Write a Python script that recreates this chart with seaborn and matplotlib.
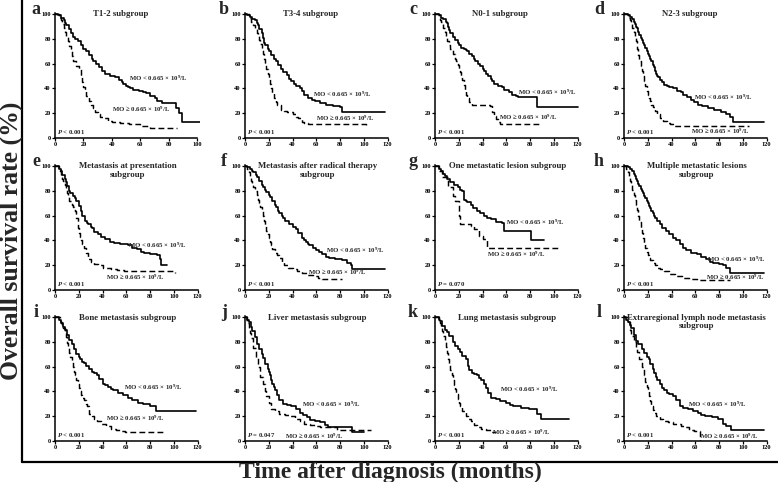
import matplotlib
matplotlib.use("Agg")
import matplotlib.pyplot as plt
from matplotlib.lines import Line2D
import seaborn as sns
import pandas as pd

# ---------------- data ----------------
a_lo_t = [0, 2, 4, 6, 7, 8, 10, 11, 13, 14, 16, 18, 20, 22, 24, 26, 27, 29, 31, 33, 35, 39, 42, 45, 47, 48, 50, 51, 53, 55, 59, 62, 64, 67, 70, 72, 75, 85, 87, 89, 102]
a_lo_s = [100, 99, 97, 95, 93, 91, 88, 85, 82, 80, 78, 75, 72, 70, 67, 64, 62, 60, 57, 54, 52, 50, 49, 47, 45, 44, 42, 41, 40, 39, 38, 37, 36, 34, 32, 30, 28, 24, 20, 13, 13]
a_hi_t = [0, 3, 4, 5, 6, 7, 8, 9, 10, 11, 12, 13, 15, 17, 18, 19, 20, 21, 22, 24, 25, 27, 28, 30, 32, 34, 37, 40, 46, 52, 60, 67, 86]
a_hi_s = [100, 97, 95, 92, 89, 86, 82, 78, 74, 70, 66, 62, 58, 56, 50, 45, 41, 38, 34, 30, 27, 24, 21, 19, 17, 16, 14, 13, 12, 11, 10, 8, 8]

b_lo_t = [0, 2, 4, 6, 8, 10, 11, 12, 14, 15, 16, 17, 19, 20, 22, 24, 26, 28, 30, 32, 35, 37, 39, 41, 43, 46, 48, 50, 53, 56, 59, 63, 68, 74, 80, 82, 118]
b_lo_s = [100, 99, 98, 96, 95, 93, 91, 88, 85, 81, 77, 75, 72, 70, 67, 64, 62, 59, 56, 53, 51, 48, 46, 44, 42, 40, 38, 35, 32, 31, 30, 28, 27, 26, 25, 21, 21]
b_hi_t = [0, 3, 5, 7, 8, 10, 11, 12, 13, 14, 15, 16, 17, 18, 19, 20, 21, 22, 23, 24, 26, 27, 30, 33, 35, 40, 43, 45, 48, 50, 53, 102]
b_hi_s = [100, 97, 94, 91, 89, 85, 83, 79, 76, 72, 68, 64, 60, 56, 52, 48, 44, 40, 36, 32, 29, 27, 23, 22, 21, 19, 17, 16, 13, 12, 11, 10]

c_lo_t = [0, 3, 5, 7, 9, 10, 11, 12, 13, 15, 17, 19, 20, 22, 24, 26, 27, 29, 31, 33, 34, 36, 38, 40, 41, 43, 45, 47, 48, 50, 53, 56, 58, 62, 65, 68, 70, 86, 120]
c_lo_s = [100, 99, 97, 96, 94, 93, 90, 87, 85, 82, 79, 77, 75, 73, 72, 71, 70, 68, 66, 64, 62, 60, 58, 56, 54, 52, 50, 48, 46, 44, 42, 41, 39, 37, 35, 34, 33, 25, 25]
c_hi_t = [0, 3, 4, 5, 6, 7, 8, 9, 10, 12, 13, 15, 17, 18, 19, 20, 21, 22, 23, 24, 25, 26, 27, 29, 31, 46, 48, 50, 51, 53, 55, 89]
c_hi_s = [100, 97, 95, 94, 92, 89, 86, 82, 78, 75, 72, 68, 64, 62, 59, 56, 53, 50, 47, 43, 39, 35, 32, 29, 27, 26, 21, 18, 15, 13, 11, 11]

d_lo_t = [0, 3, 5, 7, 8, 9, 10, 11, 12, 13, 14, 15, 16, 17, 18, 19, 20, 21, 22, 23, 24, 25, 26, 27, 28, 29, 30, 32, 34, 36, 38, 41, 45, 48, 50, 53, 56, 59, 62, 66, 71, 76, 82, 86, 89, 92, 118]
d_lo_s = [100, 99, 98, 96, 94, 92, 90, 89, 86, 83, 81, 79, 77, 75, 73, 70, 68, 66, 64, 62, 59, 57, 54, 52, 50, 49, 47, 45, 43, 42, 41, 40, 38, 37, 35, 33, 31, 29, 27, 26, 24, 23, 21, 19, 17, 13, 13]
d_hi_t = [0, 3, 4, 5, 6, 7, 8, 9, 10, 11, 12, 13, 14, 15, 16, 17, 18, 19, 20, 21, 22, 23, 24, 26, 28, 30, 33, 36, 39, 42, 105]
d_hi_s = [100, 98, 97, 95, 92, 89, 86, 82, 78, 72, 67, 62, 58, 54, 50, 46, 42, 38, 35, 32, 30, 27, 25, 22, 19, 16, 14, 12, 11, 10, 10]

e_lo_t = [0, 3, 5, 6, 8, 9, 10, 12, 13, 15, 17, 18, 20, 22, 23, 25, 27, 28, 30, 31, 33, 36, 39, 42, 46, 50, 55, 61, 65, 69, 72, 75, 80, 86, 88, 89, 94]
e_lo_s = [100, 98, 96, 93, 90, 87, 84, 80, 78, 76, 74, 72, 68, 64, 60, 56, 54, 53, 51, 50, 47, 45, 43, 41, 39, 38, 37, 36, 34, 33, 31, 30, 29, 28, 25, 20, 20]
e_hi_t = [0, 3, 4, 5, 6, 7, 8, 9, 10, 11, 12, 14, 15, 16, 17, 18, 19, 20, 21, 22, 23, 24, 26, 28, 30, 33, 36, 40, 47, 52, 58, 101]
e_hi_s = [100, 98, 96, 93, 90, 88, 85, 82, 78, 75, 72, 69, 67, 65, 64, 58, 50, 46, 43, 40, 37, 34, 30, 25, 23, 21, 20, 18, 17, 16, 15, 14]

f_lo_t = [0, 2, 4, 6, 7, 9, 10, 12, 14, 15, 17, 18, 20, 21, 23, 25, 26, 28, 29, 31, 32, 34, 37, 40, 43, 45, 48, 50, 51, 53, 54, 57, 60, 62, 65, 68, 71, 76, 82, 86, 89, 90, 118]
f_lo_s = [100, 99, 98, 96, 95, 93, 91, 88, 85, 83, 81, 79, 77, 75, 72, 69, 67, 64, 62, 60, 58, 56, 53, 51, 49, 46, 42, 40, 39, 37, 36, 34, 32, 31, 29, 27, 26, 25, 24, 22, 20, 17, 17]
f_hi_t = [0, 2, 3, 4, 5, 6, 7, 8, 9, 10, 11, 12, 13, 14, 15, 16, 17, 18, 19, 20, 21, 22, 23, 25, 27, 29, 31, 33, 36, 40, 44, 48, 52, 57, 61, 65, 82]
f_hi_s = [100, 98, 95, 92, 88, 85, 83, 82, 80, 77, 73, 70, 67, 64, 60, 56, 52, 48, 45, 42, 39, 36, 33, 30, 28, 26, 23, 20, 18, 17, 15, 14, 12, 11, 10, 9, 9]

g_lo_t = [0, 3, 5, 7, 8, 10, 13, 16, 19, 21, 23, 24, 26, 27, 30, 32, 35, 38, 41, 44, 47, 51, 56, 58, 81, 92]
g_lo_s = [100, 98, 96, 94, 92, 90, 87, 85, 83, 81, 80, 73, 72, 71, 69, 66, 64, 62, 60, 58, 57, 55, 54, 48, 40, 40]
g_hi_t = [0, 3, 6, 11, 15, 17, 20, 21, 30, 33, 37, 40, 44, 104]
g_hi_s = [100, 96, 91, 83, 76, 72, 60, 53, 52, 49, 44, 41, 34, 33]

h_lo_t = [0, 3, 5, 7, 8, 9, 10, 11, 12, 13, 14, 15, 16, 17, 18, 19, 20, 21, 22, 23, 24, 25, 26, 28, 30, 32, 35, 38, 41, 44, 47, 50, 52, 56, 61, 65, 69, 72, 75, 80, 83, 86, 89, 118]
h_lo_s = [100, 99, 98, 96, 94, 92, 90, 88, 86, 84, 82, 80, 78, 76, 74, 72, 70, 68, 66, 64, 62, 60, 58, 56, 53, 50, 48, 45, 42, 40, 37, 34, 32, 30, 29, 27, 25, 23, 22, 21, 20, 18, 14, 14]
h_hi_t = [0, 2, 3, 4, 5, 6, 7, 8, 9, 10, 11, 12, 13, 14, 15, 16, 17, 18, 19, 20, 21, 22, 24, 26, 28, 30, 34, 38, 43, 49, 55, 61, 89]
h_hi_s = [100, 98, 95, 92, 88, 85, 81, 77, 73, 69, 65, 60, 55, 50, 46, 42, 38, 34, 31, 28, 26, 24, 22, 20, 18, 17, 15, 13, 11, 10, 9, 8, 8]

i_lo_t = [0, 3, 5, 7, 8, 10, 12, 14, 16, 18, 20, 21, 23, 24, 26, 29, 31, 33, 35, 37, 40, 42, 45, 47, 49, 53, 57, 61, 65, 70, 74, 80, 85, 119]
i_lo_s = [100, 98, 95, 92, 90, 86, 82, 78, 74, 70, 68, 66, 64, 63, 61, 58, 56, 55, 53, 50, 46, 45, 44, 42, 41, 39, 37, 35, 33, 31, 30, 28, 24, 24]
i_hi_t = [0, 4, 5, 6, 7, 8, 9, 10, 11, 12, 13, 14, 15, 16, 17, 18, 19, 20, 21, 22, 23, 24, 26, 27, 29, 31, 33, 35, 39, 43, 47, 51, 55, 59, 91]
i_hi_s = [100, 97, 95, 93, 91, 88, 84, 79, 75, 71, 68, 64, 60, 56, 53, 49, 46, 43, 40, 37, 35, 33, 30, 28, 22, 20, 18, 16, 14, 12, 10, 9, 8, 7, 7]

j_lo_t = [0, 2, 3, 5, 6, 8, 10, 12, 14, 15, 17, 19, 20, 21, 22, 23, 24, 25, 27, 29, 32, 35, 39, 43, 46, 49, 52, 55, 59, 63, 67, 70, 90, 100]
j_lo_s = [100, 98, 96, 92, 89, 84, 78, 74, 70, 67, 62, 58, 56, 53, 49, 46, 44, 41, 37, 33, 30, 29, 28, 26, 23, 21, 19, 17, 16, 15, 13, 11, 7, 7]
j_hi_t = [0, 2, 3, 4, 5, 7, 9, 11, 13, 15, 17, 18, 20, 22, 25, 29, 34, 38, 42, 46, 50, 55, 59, 63, 77, 106]
j_hi_s = [100, 95, 91, 87, 83, 75, 67, 60, 52, 46, 40, 36, 31, 26, 24, 22, 21, 20, 18, 16, 14, 13, 12, 11, 9, 9]

k_lo_t = [0, 3, 4, 6, 8, 10, 12, 15, 17, 19, 21, 23, 26, 28, 29, 31, 33, 35, 37, 39, 41, 43, 45, 47, 51, 55, 60, 63, 66, 72, 79, 86, 89, 113]
k_lo_s = [100, 98, 97, 93, 90, 88, 85, 80, 77, 74, 72, 69, 66, 61, 57, 55, 54, 53, 51, 49, 46, 43, 39, 35, 34, 32, 31, 29, 28, 27, 26, 22, 18, 18]
k_hi_t = [0, 3, 4, 5, 6, 7, 8, 9, 10, 11, 12, 13, 14, 15, 16, 17, 18, 19, 20, 21, 23, 26, 28, 30, 33, 35, 39, 43, 47, 51]
k_hi_s = [100, 97, 95, 92, 89, 85, 80, 76, 71, 66, 62, 57, 53, 49, 45, 42, 38, 34, 31, 28, 24, 20, 18, 16, 13, 11, 10, 9, 7, 7]

l_lo_t = [0, 2, 3, 5, 6, 8, 10, 12, 15, 17, 19, 21, 22, 24, 25, 27, 28, 30, 32, 34, 36, 38, 41, 44, 47, 50, 54, 58, 62, 65, 68, 74, 79, 83, 86, 90, 118]
l_lo_s = [100, 98, 96, 94, 91, 86, 81, 78, 74, 71, 68, 66, 62, 58, 55, 52, 49, 46, 43, 41, 39, 38, 36, 33, 28, 27, 26, 24, 23, 21, 20, 19, 18, 14, 12, 9, 9]
l_hi_t = [0, 3, 5, 6, 8, 10, 11, 13, 15, 17, 18, 19, 20, 21, 22, 23, 24, 25, 27, 30, 33, 37, 41, 45, 48, 51, 55, 59, 64]
l_hi_s = [100, 96, 90, 85, 80, 75, 72, 66, 60, 53, 48, 44, 40, 36, 32, 28, 25, 23, 20, 18, 16, 15, 14, 14, 12, 11, 9, 8, 0]

letters = list("abcdefghijkl")
titles = ["T1-2 subgroup", "T3-4 subgroup", "N0-1 subgroup", "N2-3 subgroup",
          "Metastasis at presentation\nsubgroup",
          "Metastasis after radical therapy\nsubgroup",
          "One metastatic lesion subgroup",
          "Multiple metastatic lesions\nsubgroup",
          "Bone metastasis subgroup", "Liver metastasis subgroup",
          "Lung metastasis subgroup",
          "Extraregional lymph node metastasis\nsubgroup"]
p_values = ["< 0.001", "< 0.001", "< 0.001", "< 0.001", "< 0.001", "< 0.001",
            "= 0.070", "< 0.001", "< 0.001", "= 0.047", "< 0.001", "< 0.001"]
x_max_tick = [100, 120, 120, 120, 120, 120, 120, 120, 120, 120, 120, 120]
y_ticks = [0, 20, 40, 60, 80, 100]
label_lo = "MO < 0.665 × 10$^{9}$/L"
label_hi = "MO ≥ 0.665 × 10$^{9}$/L"

curves_lo = [(a_lo_t, a_lo_s), (b_lo_t, b_lo_s), (c_lo_t, c_lo_s), (d_lo_t, d_lo_s),
             (e_lo_t, e_lo_s), (f_lo_t, f_lo_s), (g_lo_t, g_lo_s), (h_lo_t, h_lo_s),
             (i_lo_t, i_lo_s), (j_lo_t, j_lo_s), (k_lo_t, k_lo_s), (l_lo_t, l_lo_s)]
curves_hi = [(a_hi_t, a_hi_s), (b_hi_t, b_hi_s), (c_hi_t, c_hi_s), (d_hi_t, d_hi_s),
             (e_hi_t, e_hi_s), (f_hi_t, f_hi_s), (g_hi_t, g_hi_s), (h_hi_t, h_hi_s),
             (i_hi_t, i_hi_s), (j_hi_t, j_hi_s), (k_hi_t, k_hi_s), (l_hi_t, l_hi_s)]

# ---------------- layout ----------------
lo_text_pos = [(52, 48), (57, 35), (70, 37), (59, 33), (61, 36), (68, 32),
               (60, 55), (70, 25), (58, 43), (48, 30), (55, 42), (54, 30)]
hi_text_pos = [(40, 23), (60, 16), (54, 17), (56, 5), (43, 10), (53, 14),
               (44, 29), (69, 10), (43, 18), (34, 4), (48, 7), (64, 4)]

sns.set_theme(style="ticks")
plt.rcParams["font.family"] = ["Liberation Serif", "DejaVu Serif"]
plt.rcParams["font.weight"] = "bold"
plt.rcParams["mathtext.fontset"] = "custom"
plt.rcParams["mathtext.rm"] = "Liberation Serif:bold"
plt.rcParams["mathtext.it"] = "Liberation Serif:italic:bold"
plt.rcParams["mathtext.bf"] = "Liberation Serif:bold"

W, H = 778, 482
fig = plt.figure(figsize=(W / 100, H / 100), dpi=100)
fig.patch.set_facecolor("white")

col_left = [55, 245, 435, 624]
row_top = [13, 165, 316]
ax_w, ax_h = 145, 125
letter_dx = [19, 21, 22, 25]

for idx in range(12):
    r, c = divmod(idx, 4)
    left = col_left[c] / W
    bottom = 1 - (row_top[r] + ax_h) / H
    ax = fig.add_axes([left, bottom, ax_w / W, ax_h / H])
    xmax = x_max_tick[idx]

    t, s = curves_lo[idx]
    df_lo = pd.DataFrame({"time": t, "surv": s})
    sns.lineplot(data=df_lo, x="time", y="surv", ax=ax, estimator=None, sort=False,
                 drawstyle="steps-post", color="black", linewidth=1.2)
    t, s = curves_hi[idx]
    df_hi = pd.DataFrame({"time": t, "surv": s})
    sns.lineplot(data=df_hi, x="time", y="surv", ax=ax, estimator=None, sort=False,
                 drawstyle="steps-post", color="black", linewidth=1.05,
                 linestyle=(0, (4, 2.2)))

    ax.set_xlim(0, xmax + 2)
    ax.set_ylim(0, 101)
    ax.set_xticks(list(range(0, xmax + 1, 20)))
    ax.set_yticks(y_ticks)
    ax.set_xlabel("")
    ax.set_ylabel("")
    for sp in ["top", "right"]:
        ax.spines[sp].set_visible(False)
    for sp in ["left", "bottom"]:
        ax.spines[sp].set_linewidth(1.1)
        ax.spines[sp].set_color("black")
    ax.spines["bottom"].set_bounds(0, xmax)
    ax.tick_params(axis="both", direction="out", length=2, width=0.9, pad=1,
                   labelsize=4.6, colors="black")
    for lab in ax.get_xticklabels() + ax.get_yticklabels():
        lab.set_fontweight("bold")
    ax.set_facecolor("white")

    tx = 0.45 if idx < 4 else 0.5
    ax.text(tx, 1.02, titles[idx], transform=ax.transAxes, ha="center", va="top",
            fontsize=6.3, fontweight="bold", linespacing=1.15)
    ax.text(*lo_text_pos[idx], label_lo, fontsize=4.9, fontweight="bold",
            ha="left", va="center")
    ax.text(*hi_text_pos[idx], label_hi, fontsize=4.9, fontweight="bold",
            ha="left", va="center")
    ax.text(1.5, 5, "$P$ " + p_values[idx], fontsize=4.9, fontweight="bold",
            ha="left", va="center")
    fig.text((col_left[c] - letter_dx[c]) / W, 1 - (row_top[r] + 1) / H, letters[idx],
             fontsize=13, fontweight="bold", ha="center", va="baseline")

# outer L-shaped frame
fig.add_artist(Line2D([22 / W, 22 / W], [1.0, 1 - 462 / H], transform=fig.transFigure,
                      color="black", linewidth=1.6))
fig.add_artist(Line2D([22 / W, 1.0], [1 - 462 / H, 1 - 462 / H], transform=fig.transFigure,
                      color="black", linewidth=1.6))

fig.text(11.5 / W, 0.5, "Overall survival rate (%)", rotation=90, ha="center", va="center",
         fontsize=18.5, fontweight="bold")
fig.text(390 / W, 1 - 472 / H, "Time after diagnosis (months)", ha="center", va="center",
         fontsize=17, fontweight="bold")

fig.savefig("out.png", dpi=100, facecolor="white")
